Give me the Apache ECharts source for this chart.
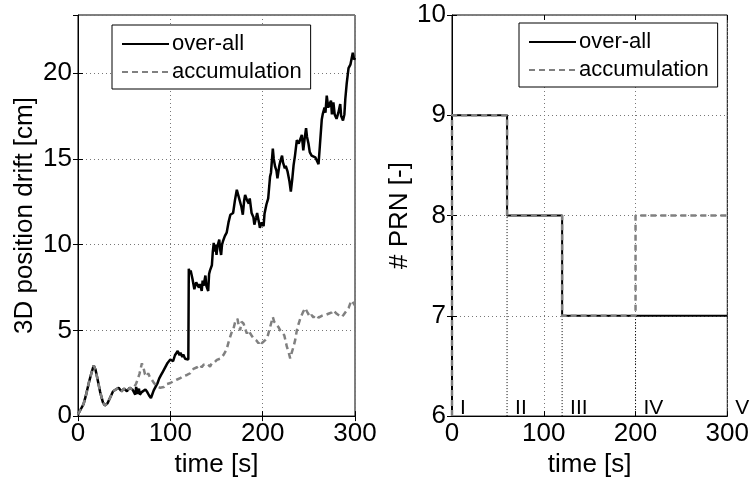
<!DOCTYPE html>
<html>
<head>
<meta charset="utf-8">
<script src="https://cdn.jsdelivr.net/npm/echarts@6/dist/echarts.min.js"></script>
<style>
  html, body { margin: 0; padding: 0; background: #fff; }
  #chart { width: 752px; height: 483px; }
</style>
</head>
<body>
<div id="chart"></div>
<script>
// left panel: 3D position drift [cm] over time [s]
// first 60 s both curves are the same
const startT = [0, 3, 6, 9, 12, 15, 17, 19, 21, 24, 27, 29, 32, 35, 38, 41, 44, 47, 50, 53, 56, 59];
const startV = [0.1, 0.4, 0.7, 1.3, 2.0, 2.6, 2.95, 2.7, 2.2, 1.4, 0.8, 0.62, 0.75, 1.1, 1.45, 1.55, 1.65, 1.45, 1.6, 1.45, 1.65, 1.55];

const overallT = [62, 63, 64, 66, 67, 69, 71, 73, 75, 77, 79, 80, 82, 84, 86, 88, 90, 92, 93, 95, 97, 99, 100, 102, 103, 105, 107, 108, 110, 111, 113, 114, 116, 118, 119.5,
  120, 121, 122, 124, 126, 127, 128, 130, 131, 132, 134, 135, 136, 138, 139, 141, 142, 143, 145, 146, 147, 148, 149, 150, 151, 153, 154, 155, 156, 157, 159, 161, 163, 165, 167, 168,
  170, 172, 174, 175, 177, 178.5, 180, 181, 183, 185, 186, 188, 190, 191, 193, 194, 196, 197, 199, 201, 202, 204, 206, 208, 209, 211, 212, 213.5, 215, 216, 218, 219,
  221, 222, 224, 225, 227, 229, 230.5, 232, 233.5, 235, 237, 239, 240.5, 242.4, 244, 245.5, 247, 248, 249.6, 251, 253, 255, 257, 259, 260.5,
  262, 264, 265, 267, 268, 269.4, 271, 273, 274, 275, 276.6, 278, 280, 282, 284, 285, 287, 288.5, 289.5, 291, 293, 295, 296.5, 297.6, 299, 300];
const overallV = [1.25, 1.7, 1.3, 1.6, 1.25, 1.4, 1.35, 1.55, 1.4, 1.2, 1.05, 1.2, 1.5, 1.7, 1.9, 2.2, 2.4, 2.6, 2.5, 2.9, 3.1, 3.0, 3.3, 3.4, 3.2, 3.55, 3.6, 3.8, 3.55, 3.7, 3.45, 3.6, 3.35, 3.25, 3.3,
  8.6, 8.3, 8.5, 8.0, 7.4, 7.35, 7.8, 7.9, 7.5, 7.7, 7.3, 7.9, 7.6, 8.2, 7.6, 7.3, 8.3, 8.5, 8.8, 9.6, 10.1, 9.6, 10.0, 9.4, 9.9, 10.3, 9.7, 9.4, 10.0, 10.2, 10.5, 10.7, 11.3, 11.75, 11.8, 11.85,
  12.6, 13.2, 12.8, 12.7, 12.2, 11.75, 12.6, 12.9, 12.6, 12.4, 12.7, 11.85, 11.6, 11.17, 11.6, 11.85, 11.3, 10.98, 11.3, 11.08, 11.8, 12.33, 12.7, 13.97, 14.2, 15.6, 15.0, 14.55, 14.3, 13.87, 14.6, 14.84,
  15.2, 14.8, 14.45, 14.6, 14.26, 13.7, 13.1, 13.8, 14.64, 15.2, 16.1, 15.9, 15.8, 16.4, 15.5, 16.2, 16.8, 16.3, 15.9, 15.4, 15.2, 15.3, 15.1, 15.0, 14.7,
  15.8, 17.3, 17.6, 18.0, 17.7, 18.7, 18.0, 17.9, 18.4, 17.6, 18.3, 17.6, 17.34, 17.7, 18.2, 17.5, 17.24, 17.6, 18.5, 19.4, 20.3, 20.5, 20.5, 21.2, 20.8, 20.9];

const accumT = [61, 63, 65, 66.5, 68, 69.2, 71, 72.5, 74.7, 76, 78, 80, 82, 84, 85.5, 87, 89, 91, 93, 95, 97, 100, 102, 104, 106, 108, 110.7, 113, 115, 118,
  121.5, 123, 125, 127, 129, 132.4, 134, 136, 138, 140, 143, 145, 148, 150.4, 152, 154, 156, 157.6, 159.4, 161, 163, 164.8, 166.5, 168.4, 170.2, 172.7,
  174, 175.6, 177, 179.3, 181, 182.9, 184.5, 186.5, 188, 190, 192, 193.5, 195.5, 197.3, 199, 200.9, 203, 205.2, 208.1, 211, 212.5, 214.6, 217, 219,
  221, 223.4, 226.2, 228, 229.8, 231.5, 233.4, 235.2, 237, 239, 241.3, 244, 246, 247.1, 249, 251.4, 253, 255, 257, 258.7, 260.5, 262.2, 264, 265.8,
  268, 271.2, 273, 275, 276.6, 278, 280.2, 282, 283.5, 285.7, 287.5, 289, 291.1, 293, 294.7, 296.5, 298.3, 300];
const accumV = [1.7, 1.9, 2.2, 2.45, 2.8, 3.08, 2.8, 2.45, 2.31, 2.5, 2.25, 2.12, 1.95, 1.85, 1.73, 1.7, 1.65, 1.64, 1.7, 1.85, 1.8, 1.93, 1.95, 2.05, 2.0, 2.15, 2.21, 2.3, 2.25, 2.4,
  2.5, 2.55, 2.75, 2.65, 2.85, 2.99, 2.85, 3.0, 2.95, 3.05, 2.89, 3.1, 3.15, 3.28, 3.2, 3.35, 3.3, 3.57, 3.6, 3.9, 4.3, 4.62, 4.9, 5.1, 5.49, 5.68,
  5.3, 5.0, 5.5, 5.4, 5.1, 4.82, 5.0, 4.9, 4.7, 4.53, 4.6, 4.4, 4.24, 4.4, 4.25, 4.33, 4.45, 4.62, 5.2, 5.78, 5.5, 5.39, 5.2, 5.0,
  4.9, 4.72, 4.05, 3.75, 3.37, 3.7, 4.05, 4.43, 5.0, 5.4, 5.78, 6.1, 6.3, 6.36, 6.0, 5.78, 5.9, 5.75, 5.9, 5.88, 5.75, 5.78, 5.85, 5.78,
  5.9, 5.97, 6.0, 6.05, 6.17, 6.1, 5.97, 6.0, 5.85, 5.78, 5.9, 6.0, 6.17, 6.3, 6.55, 6.74, 6.7, 6.45];

// right panel: number of PRN (stairs)
const prnOverallT = [0, 0, 60, 60, 120, 120, 300];
const prnOverallV = [6, 9, 9, 8, 8, 7, 7];
const prnAccumT = [0, 0, 60, 60, 120, 120, 200, 200, 300];
const prnAccumV = [6, 9, 9, 8, 8, 7, 7, 8, 8];

// phase boundaries and their labels
const boundaryT = [60, 120, 200];
const boundaryTop = [8, 7, 7];
const phaseNames = ['I', 'II', 'III', 'IV', 'V'];
const phaseT = [0, 60, 120, 200, 300];
const phaseLabelY = 6.08;

const seriesNames = ['over-all', 'accumulation'];
const leftTicks = [0, 5, 10, 15, 20];

const FONT = "'Liberation Sans', Arial, Helvetica, sans-serif";

function pairs(t, v) {
  return t.map((x, i) => [x, v[i]]);
}

let myChart = echarts.init(document.getElementById('chart'));

let gridLine = { show: true, lineStyle: { color: '#777', type: [1, 3], width: 1 } };
let tickIn = { show: true, inside: true, length: 5, lineStyle: { color: '#000' } };
let tickLabel = { fontFamily: FONT, fontSize: 26, color: '#000' };
let axisName = { fontFamily: FONT, fontSize: 26, color: '#000' };

function mainX(grid) {
  return {
    type: 'value', gridIndex: grid, min: 0, max: 300, interval: 100,
    axisLine: { show: true, lineStyle: { color: '#000', width: 1 } },
    axisTick: tickIn,
    axisLabel: Object.assign({ margin: 5 }, tickLabel),
    splitLine: gridLine,
    name: 'time [s]', nameLocation: 'middle', nameGap: 30, nameTextStyle: axisName
  };
}
function mirrorX(grid) {
  return {
    type: 'value', gridIndex: grid, position: 'top', min: 0, max: 300, interval: 100,
    axisLine: { show: false }, axisTick: tickIn, axisLabel: { show: false }, splitLine: { show: false }
  };
}
function makeLegend(left, top) {
  return {
    data: seriesNames, orient: 'vertical', left: left, top: top,
    padding: [8, 9, 6, 9], itemWidth: 47, itemHeight: 22, itemGap: 6,
    borderColor: '#000', borderWidth: 1, backgroundColor: '#fff',
    itemStyle: { opacity: 0 },
    textStyle: { fontFamily: FONT, fontSize: 22, color: '#000', lineHeight: 22, padding: [0, 0, 0, -2] },
    selectedMode: false
  };
}

let option = {
  animation: false,
  backgroundColor: '#fff',
  textStyle: { fontFamily: FONT },
  grid: [
    { left: 78, top: 15, width: 277, height: 405, show: true, borderColor: '#000', borderWidth: 1, backgroundColor: 'transparent' },
    { left: 452, top: 15, width: 277, height: 405, show: true, borderColor: '#000', borderWidth: 1, backgroundColor: 'transparent' }
  ],
  legend: [makeLegend(112, 25), makeLegend(519, 23)],
  xAxis: [mainX(0), mainX(1), mirrorX(0), mirrorX(1)],
  yAxis: [
    {
      type: 'value', gridIndex: 0, min: 0, max: 23.4, interval: 5,
      axisLine: { show: true, lineStyle: { color: '#000' } },
      axisTick: tickIn,
      axisLabel: Object.assign({ margin: 6, showMaxLabel: false,
        formatter: v => leftTicks.indexOf(v) >= 0 ? String(v) : '' }, tickLabel),
      splitLine: gridLine,
      name: '3D position drift [cm]', nameLocation: 'middle', nameGap: 40, nameTextStyle: axisName
    },
    {
      type: 'value', gridIndex: 1, min: 6, max: 10, interval: 1,
      axisLine: { show: true, lineStyle: { color: '#000' } },
      axisTick: tickIn,
      axisLabel: Object.assign({ margin: 6 }, tickLabel),
      splitLine: gridLine,
      name: '# PRN [-]', nameLocation: 'middle', nameGap: 28, nameTextStyle: axisName
    },
    {
      type: 'value', gridIndex: 0, position: 'right', min: 0, max: 23.4, interval: 5,
      axisLine: { show: false }, axisTick: tickIn, axisLabel: { show: false }, splitLine: { show: false }
    },
    {
      type: 'value', gridIndex: 1, position: 'right', min: 6, max: 10, interval: 1,
      axisLine: { show: false }, axisTick: tickIn, axisLabel: { show: false }, splitLine: { show: false }
    }
  ],
  series: [
    {
      name: 'over-all', type: 'line', xAxisIndex: 0, yAxisIndex: 0,
      showSymbol: false, symbol: 'none', z: 3,
      lineStyle: { color: '#000', width: 2.5 }, itemStyle: { color: '#000' },
      data: pairs(startT.concat(overallT), startV.concat(overallV))
    },
    {
      name: 'accumulation', type: 'line', xAxisIndex: 0, yAxisIndex: 0,
      showSymbol: false, symbol: 'none', z: 4,
      lineStyle: { color: '#808080', width: 2.5, type: [6, 4] }, itemStyle: { color: '#808080' },
      data: pairs(startT.concat(accumT), startV.concat(accumV))
    },
    {
      name: 'over-all', type: 'line', xAxisIndex: 1, yAxisIndex: 1,
      showSymbol: false, symbol: 'none', z: 3,
      lineStyle: { color: '#000', width: 2 }, itemStyle: { color: '#000' },
      data: pairs(prnOverallT, prnOverallV)
    },
    {
      name: 'accumulation', type: 'line', xAxisIndex: 1, yAxisIndex: 1,
      showSymbol: false, symbol: 'none', z: 4,
      lineStyle: { color: '#808080', width: 2.5, type: [6, 4] }, itemStyle: { color: '#808080' },
      data: pairs(prnAccumT, prnAccumV)
    },
    // phase boundaries
    ...boundaryT.map((t, i) => ({
      name: 'boundary' + i, type: 'line', xAxisIndex: 1, yAxisIndex: 1,
      showSymbol: false, symbol: 'none', z: 2, silent: true,
      lineStyle: { color: '#000', width: 1, type: [1, 2] },
      data: [[t, 6], [t, boundaryTop[i]]]
    })),
    {
      name: 'phases', type: 'scatter', xAxisIndex: 1, yAxisIndex: 1,
      symbolSize: 0, itemStyle: { color: '#000', opacity: 1 }, silent: true, z: 5,
      label: {
        show: true, position: 'right', distance: 8, formatter: '{b}',
        fontFamily: FONT, fontSize: 21, color: '#000', opacity: 1
      },
      data: phaseNames.map((n, i) => ({ name: n, value: [phaseT[i], phaseLabelY] }))
    }
  ]
};

myChart.setOption(option);
</script>
</body>
</html>
